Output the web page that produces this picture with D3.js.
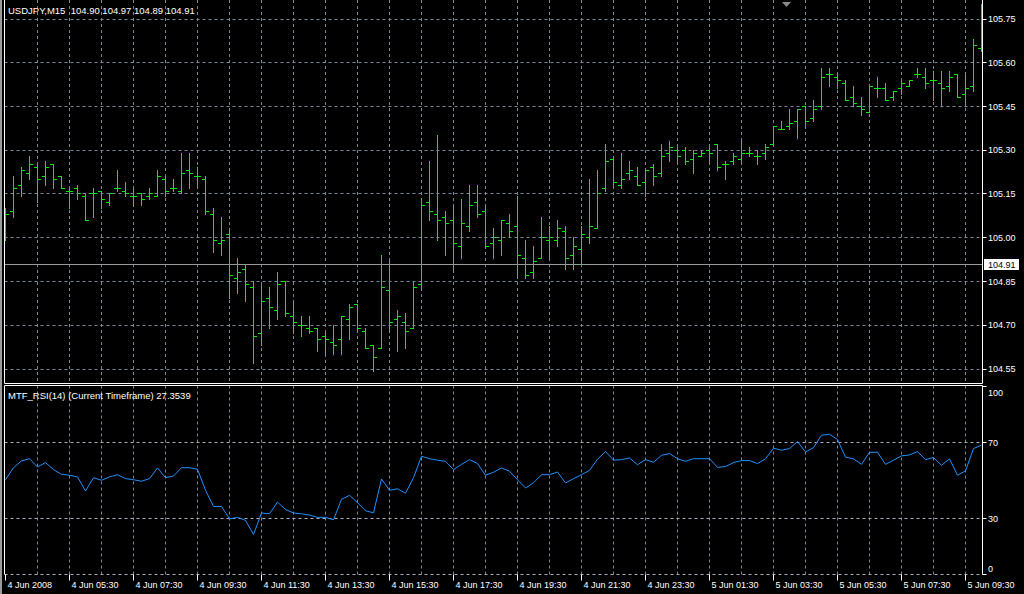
<!DOCTYPE html>
<html><head><meta charset="utf-8">
<script src="https://cdn.jsdelivr.net/npm/d3@7"></script>
<style>html,body{margin:0;padding:0;background:#000;}svg{display:block;}text{font-family:"Liberation Sans",Arial,sans-serif;}</style>
</head><body>
<script>
// ---------- DATA ----------
const symbolTitle = "USDJPY,M15  104.90 104.97 104.89 104.91";
const rsiTitle = "MTF_RSI(14) (Current Timeframe) 27.3539";
const bidPrice = 104.91;
const openP = [105.05,105.09,105.18,105.22,105.24,105.21,105.25,105.21,105.16,105.17,105.14,105.15,105.16,105.12,105.17,105.16,105.14,105.15,105.14,105.14,105.20,105.17,105.16,105.23,105.21,105.20,105.08,104.98,105.01,104.86,104.89,104.83,104.67,104.79,104.75,104.85,104.73,104.70,104.69,104.69,104.66,104.64,104.65,104.72,104.77,104.68,104.63,104.62,104.82,104.72,104.71,104.69,104.84,105.12,105.08,105.07,105.06,104.97,105.04,105.12,105.09,104.98,104.99,105.05,105.04,104.93,104.88,104.93,104.99,104.99,105.02,104.94,104.96,105.00,105.03,105.17,105.27,105.18,105.22,105.21,105.19,105.24,105.22,105.29,105.30,105.30,105.27,105.28,105.30,105.32,105.25,105.26,105.27,105.29,105.28,105.29,105.32,105.37,105.38,105.40,105.45,105.41,105.45,105.56,105.55,105.53,105.48,105.45,105.43,105.51,105.51,105.48,105.51,105.52,105.56,105.55,105.54,105.53,105.52,105.56,105.49,105.52,105.65];
const highP = [105.10,105.21,105.24,105.28,105.25,105.26,105.25,105.21,105.17,105.18,105.15,105.17,105.16,105.15,105.23,105.19,105.17,105.15,105.17,105.23,105.21,105.20,105.29,105.29,105.24,105.21,105.10,105.07,105.03,104.93,104.91,104.85,104.84,104.83,104.88,104.85,104.78,104.73,104.73,104.69,104.68,104.70,104.73,104.77,104.77,104.69,104.63,104.94,104.92,104.75,104.74,104.85,105.13,105.26,105.35,105.09,105.11,105.13,105.18,105.18,105.11,105.03,105.06,105.08,105.14,104.99,104.97,105.07,105.04,105.06,105.04,105.00,105.04,105.20,105.23,105.32,105.27,105.29,105.26,105.24,105.23,105.25,105.32,105.33,105.31,105.31,105.30,105.30,105.31,105.32,105.26,105.29,105.33,105.31,105.30,105.32,105.38,105.40,105.44,105.44,105.45,105.47,105.58,105.58,105.56,105.54,105.52,105.48,105.52,105.55,105.53,105.50,105.54,105.54,105.58,105.58,105.57,105.57,105.57,105.56,105.56,105.68,105.80];
const lowP = [104.99,105.07,105.14,105.20,105.12,105.18,105.17,105.17,105.10,105.13,105.06,105.07,105.10,105.11,105.16,105.14,105.11,105.11,105.13,105.14,105.14,105.16,105.15,105.17,105.18,105.08,104.95,104.94,104.79,104.81,104.78,104.57,104.63,104.69,104.72,104.73,104.67,104.66,104.67,104.61,104.60,104.60,104.60,104.65,104.68,104.62,104.54,104.62,104.68,104.61,104.62,104.69,104.82,105.06,104.99,104.94,104.89,104.93,105.02,105.07,104.97,104.93,104.94,105.00,104.87,104.86,104.86,104.93,104.93,104.97,104.89,104.89,104.91,104.98,105.03,105.16,105.18,105.17,105.20,105.18,105.14,105.18,105.21,105.26,105.26,105.25,105.22,105.28,105.26,105.23,105.20,105.25,105.26,105.28,105.25,105.27,105.32,105.37,105.37,105.34,105.38,105.40,105.44,105.52,105.51,105.47,105.45,105.42,105.43,105.48,105.47,105.47,105.49,105.52,105.55,105.51,105.47,105.45,105.50,105.48,105.45,105.50,105.64];
const closeP = [105.08,105.17,105.23,105.25,105.20,105.24,105.20,105.17,105.16,105.15,105.06,105.15,105.13,105.15,105.17,105.15,105.14,105.13,105.15,105.21,105.16,105.17,105.22,105.22,105.21,105.09,104.99,104.99,104.87,104.88,104.84,104.66,104.78,104.76,104.84,104.74,104.71,104.70,104.68,104.65,104.65,104.63,104.73,104.76,104.69,104.62,104.59,104.83,104.71,104.73,104.68,104.83,105.11,105.09,105.06,105.05,104.98,105.05,105.11,105.08,104.97,105.00,105.06,105.02,104.94,104.87,104.92,105.00,105.00,105.03,104.93,104.97,105.01,105.04,105.15,105.26,105.19,105.20,105.23,105.18,105.23,105.21,105.28,105.31,105.28,105.26,105.29,105.29,105.29,105.24,105.25,105.28,105.29,105.29,105.28,105.31,105.38,105.37,105.39,105.44,105.40,105.44,105.55,105.56,105.54,105.47,105.46,105.44,105.52,105.51,105.47,105.50,105.53,105.54,105.56,105.53,105.54,105.51,105.55,105.48,105.51,105.66,105.70];
const rsiValues = [50.4,56.8,60.4,61.6,57.2,59.5,55.8,53.3,52.8,51.9,44.4,51.5,50.1,51.9,53.1,51.0,50.4,49.6,51.0,56.7,51.5,52.4,56.8,56.8,56.0,44.8,36.2,36.2,29.6,30.4,28.8,21.3,32.7,32.3,38.5,34.6,32.7,32.3,31.6,30.4,30.4,29.1,40.0,42.1,38.2,33.9,32.8,50.8,44.8,45.6,43.2,51.5,62.9,61.6,60.8,60.2,55.8,58.6,61.1,59.0,52.8,54.4,56.7,54.9,50.4,46.0,48.8,53.1,53.1,54.5,48.7,51.0,53.1,55.4,61.3,65.4,60.8,61.1,62.0,58.4,61.1,59.7,63.4,64.3,61.6,60.2,61.6,61.6,61.6,57.0,57.4,59.5,60.6,60.6,59.0,61.5,67.2,66.1,67.0,70.7,65.2,67.5,74.1,74.6,71.8,62.4,61.5,58.6,65.0,65.0,58.6,60.8,63.1,63.6,65.4,61.1,62.2,58.1,61.5,52.8,55.1,67.0,68.8];
const priceTicks = [104.55,104.70,104.85,105.00,105.15,105.30,105.45,105.60,105.75];
const rsiLevels = [100,70,30,0];
const rsiGridLevels = [70,30,0];
const timeLabels = ["4 Jun 2008","4 Jun 05:30","4 Jun 07:30","4 Jun 09:30","4 Jun 11:30","4 Jun 13:30","4 Jun 15:30","4 Jun 17:30","4 Jun 19:30","4 Jun 21:30","4 Jun 23:30","5 Jun 01:30","5 Jun 03:30","5 Jun 05:30","5 Jun 07:30","5 Jun 09:30"];
const barsPerLabel = 8, barsPerGrid = 4;

// ---------- LAYOUT ----------
const W = 1024, H = 594;
const left = 4.5, right = 982.5, mainTop = 0, mainBottom = 383.5, rsiTop = 385.5, rsiBottom = 574.5;
const gridColor = "#778899", barColor = "#00f000", rsiColor = "#1e90ff";

const svg = d3.select("body").append("svg").attr("width", W).attr("height", H);
svg.append("rect").attr("width", W).attr("height", H).attr("fill", "#000");
svg.append("rect").attr("x", 0).attr("y", 0).attr("width", 2).attr("height", H).attr("fill", "#9a9a9a");

const n = closeP.length;
const x = d3.scaleLinear().domain([0, n - 1]).range([5.5, 981.5]);
const y = d3.scaleLinear().domain([104.55, 105.75]).range([368.5, 18.5]);
const yr = d3.scaleLinear().domain([0, 100]).range([rsiBottom, 386.5]);

const defs = svg.append("defs");
defs.append("clipPath").attr("id", "cm").append("rect").attr("x", left + 0.5).attr("y", 0).attr("width", right - left - 1).attr("height", mainBottom);
defs.append("clipPath").attr("id", "cr").append("rect").attr("x", left + 0.5).attr("y", rsiTop).attr("width", right - left - 1).attr("height", rsiBottom - rsiTop);

// vertical grid
const gridIdx = d3.range(barsPerGrid, n - 1, barsPerGrid);
const dash = "3,3";
[[mainTop, mainBottom], [rsiTop, rsiBottom]].forEach(([t, b]) => {
  svg.append("g").selectAll("line").data(gridIdx).join("line")
    .attr("x1", d => x(d)).attr("x2", d => x(d)).attr("y1", t).attr("y2", b)
    .attr("stroke", gridColor).attr("stroke-dasharray", dash);
});
// horizontal grids
svg.append("g").selectAll("line").data(priceTicks).join("line")
  .attr("x1", left).attr("x2", right).attr("y1", d => Math.round(y(d)) + 0.5).attr("y2", d => Math.round(y(d)) + 0.5)
  .attr("stroke", gridColor).attr("stroke-dasharray", dash);
svg.append("g").selectAll("line").data(rsiGridLevels).join("line")
  .attr("x1", left).attr("x2", right).attr("y1", d => Math.round(yr(d) - 0.5) + 0.5).attr("y2", d => Math.round(yr(d) - 0.5) + 0.5)
  .attr("stroke", "#a8b0bc").attr("stroke-dasharray", dash);

// bid line
svg.append("line").attr("x1", left).attr("x2", right)
  .attr("y1", Math.round(y(bidPrice)) + 0.5).attr("y2", Math.round(y(bidPrice)) + 0.5)
  .attr("stroke", "#9a9a9a");

// OHLC bars
const bars = svg.append("g").attr("clip-path", "url(#cm)").attr("stroke", barColor).attr("stroke-width", 1);
const idx = d3.range(n);
const py = v => Math.round(y(v)) + 0.5;
bars.selectAll("line.hl").data(idx).join("line").attr("class", "hl")
  .attr("x1", i => x(i)).attr("x2", i => x(i)).attr("y1", i => py(highP[i]) - 0.5).attr("y2", i => py(lowP[i]) + 0.5);
bars.selectAll("line.o").data(idx).join("line").attr("class", "o")
  .attr("x1", i => x(i) - 3.5).attr("x2", i => x(i)).attr("y1", i => py(openP[i])).attr("y2", i => py(openP[i]));
bars.selectAll("line.c").data(idx).join("line").attr("class", "c")
  .attr("x1", i => x(i)).attr("x2", i => x(i) + 3.5).attr("y1", i => py(closeP[i])).attr("y2", i => py(closeP[i]));

// RSI line
svg.append("path").datum(rsiValues).attr("clip-path", "url(#cr)")
  .attr("d", d3.line().x((d, i) => x(i)).y(d => yr(d)))
  .attr("fill", "none").attr("stroke", rsiColor).attr("stroke-width", 1);

// frames
const white = "#ffffff";
const fr = svg.append("g").attr("stroke", white).attr("stroke-width", 1);
fr.append("line").attr("x1", left).attr("x2", left).attr("y1", 0).attr("y2", mainBottom);
fr.append("line").attr("x1", right).attr("x2", right).attr("y1", 0).attr("y2", mainBottom);
fr.append("line").attr("x1", left).attr("x2", right).attr("y1", mainBottom).attr("y2", mainBottom);
fr.append("line").attr("x1", left).attr("x2", right).attr("y1", rsiTop).attr("y2", rsiTop);
fr.append("line").attr("x1", left).attr("x2", left).attr("y1", rsiTop).attr("y2", rsiBottom);
fr.append("line").attr("x1", right).attr("x2", right).attr("y1", rsiTop).attr("y2", rsiBottom);

// shift marker
svg.append("path").attr("d", "M782,2 L791,2 L786.5,7 Z").attr("fill", "#8a8a8a");

// price axis labels
const fsAxis = 9, fsTitle = 9.5;
const pax = svg.append("g");
pax.selectAll("line").data(priceTicks).join("line")
  .attr("x1", right).attr("x2", right + 4).attr("y1", d => Math.round(y(d)) + 0.5).attr("y2", d => Math.round(y(d)) + 0.5)
  .attr("stroke", white);
pax.selectAll("text").data(priceTicks).join("text")
  .attr("x", 988).attr("y", d => y(d) + 3.5).attr("fill", white).attr("font-size", fsAxis)
  .text(d => d.toFixed(2));
// bid label
svg.append("rect").attr("x", 984).attr("y", Math.round(y(bidPrice)) - 5).attr("width", 35).attr("height", 11).attr("fill", white);
svg.append("text").attr("x", 988).attr("y", y(bidPrice) + 4).attr("fill", "#000").attr("font-size", fsAxis).text(bidPrice.toFixed(2));

// RSI axis labels
const rax = svg.append("g");
rax.selectAll("line").data(rsiLevels).join("line")
  .attr("x1", right).attr("x2", right + 4).attr("y1", d => Math.round(yr(d) - 0.5) + 0.5).attr("y2", d => Math.round(yr(d) - 0.5) + 0.5)
  .attr("stroke", white);
rax.selectAll("text").data(rsiLevels).join("text")
  .attr("x", 988).attr("y", d => Math.min(568, Math.max(392, yr(d))) + 3.5).attr("fill", white).attr("font-size", fsAxis)
  .text(d => d);

// time axis
const tax = svg.append("g");
const labIdx = timeLabels.map((t, i) => i * barsPerLabel);
tax.selectAll("line").data(labIdx).join("line")
  .attr("x1", d => x(d)).attr("x2", d => x(d)).attr("y1", rsiBottom).attr("y2", rsiBottom + 6)
  .attr("stroke", white);
tax.selectAll("text").data(timeLabels).join("text")
  .attr("x", (d, i) => x(labIdx[i]) + 2).attr("y", 587.5).attr("fill", white).attr("font-size", fsAxis)
  .text(d => d);

// titles (keep double space)
svg.append("text").attr("x", 8).attr("y", 14).attr("fill", white).attr("font-size", fsTitle)
  .text(symbolTitle.replace(/ /g, "\u00a0"));
svg.append("text").attr("x", 8).attr("y", 399).attr("fill", white).attr("font-size", fsTitle).text(rsiTitle);
</script>
</body></html>
